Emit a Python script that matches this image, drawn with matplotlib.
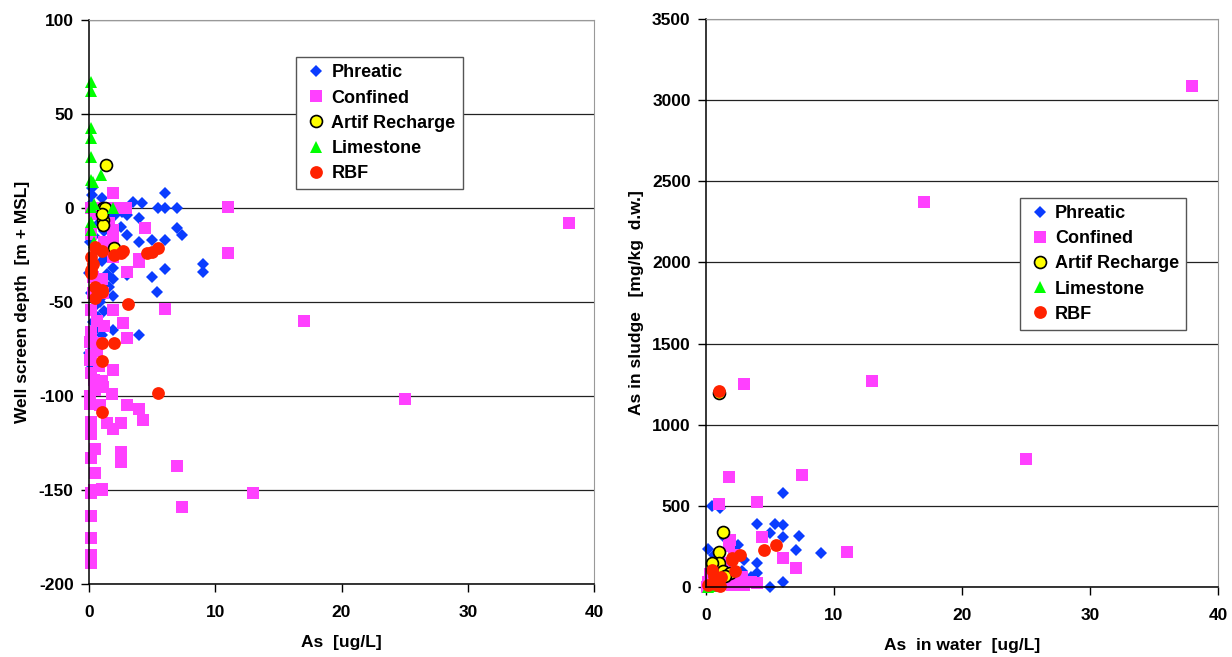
import matplotlib.pyplot as plt

plt.rcParams['font.family'] = ['Liberation Sans', 'DejaVu Sans']
plt.rcParams['font.weight'] = 'bold'
plt.rcParams['axes.unicode_minus'] = False

# ---- left panel: well screen depth vs As ----
phr_x = [0.24, 0.24, 1.0, 6.0, 3.5, 4.2, 5.5, 6.0, 7.0, 2.1, 3.0, 4.0, 7.0, 7.4, 3.0, 4.0, 5.0,
         6.0, 9.0, 9.0, 6.0, 5.0, 1.9, 1.9, 5.4, 1.9, 1.1, 0.0, 0.3, 1.9, 4.0, 1.0, 3.0, 0.0,
         0.2, 0.5, 0.8, 1.2, 0.4, 0.6, 1.0, 0.3, 1.5, 0.8, 0.5, 0.2, 0.7, 0.4, 0.2, 1.2, 2.5,
         2.0, 1.5, 0.1, 2.6, 1.4, 0.9, 1.6, 0.6, 1.3]
phr_y = [10.6, 6.9, 5.3, 8.0, 3.2, 2.7, 0, 0, 0, -3.7, -3.7, -5.3, -10.6, -14.4, -14.4, -18, -17,
         -17, -30, -34, -32.4, -36.7, -32, -38, -44.7, -47, -47, -34.6, -60.6, -65, -67.6, -67.6,
         -35.6, -77, 2, -2, -8, -12, -15, -22, -28, -30, -20, -40, -52, -45, -58, -70, -85, -55,
         -10, -24, -5, -18, -2, -35, -50, -42, -64, -26]

con_x = [1.9, 0.2, 0.8, 1.5, 2.2, 2.9, 11.0, 4.4, 1.9, 1.9, 0.2, 11.0, 4.0, 3.0, 1.9, 0.3, 1.0,
         4.0, 6.0, 0.2, 1.9, 2.7, 3.0, 0.2, 0.1, 1.9, 0.1, 0.8, 0.4, 1.8, 3.0, 4.0, 4.3, 1.4, 2.5,
         1.9, 0.2, 0.2, 0.5, 0.2, 2.5, 2.5, 7.0, 0.5, 1.0, 0.2, 13.0, 7.4, 0.2, 0.2, 0.2, 0.2,
         38.0, 17.0, 25.0, 0.1, 0.1, 0.5, 1.0, 1.1, 0.6, 0.2, 0.9, 1.0, 0.4, 0.3, 0.6, 1.2, 0.8,
         0.2, 1.1, 0.5, 1.2, 1.6]
con_y = [8, 0, 0, 0, 0, 0, 0.5, -10.6, -11.7, -16, -14, -24, -27, -34, -26, -36.7, -38,
         -28.7, -53.7, -54, -54, -61, -69, -66, -71, -86, -81, -84, -91.5, -99, -105, -107, -113,
         -114.5, -114.5, -117.6, -114, -120, -128, -133, -130, -135, -137, -141, -149.5, -151.6,
         -151.6, -159, -164, -175.5, -184.6, -189, -8, -60, -101.6, -100, -104, -97, -92, -95,
         -76, -88, -105, -150, -150, -45, -60, -63, -72, -78, -45, -3, -18, -8]

art_x = [1.35, 1.1, 1.3, 1.1, 1.1, 2.0, 1.0]
art_y = [23, 0, 0, -6.5, -9, -21, -3]

lim_x = [0.2, 0.2, 0.2, 0.2, 0.2, 0.2, 0.95, 0.2, 1.9, 0.2, 0.2, 0.4, 0.3, 0.4]
lim_y = [67, 62, 42.6, 37.2, 27, 15, 17.5, 0.5, 0, -7.4, -11.7, -18, 14, 2]

rbf_x = [0.5, 1.0, 0.2, 2.5, 2.7, 4.6, 5.0, 5.5, 0.2, 0.2, 0.5, 1.0, 0.5, 1.0, 3.1, 1.0, 2.0,
         1.0, 5.5, 1.0, 0.3, 2.0]
rbf_y = [-20.7, -23, -26, -24, -22.8, -24, -23.4, -21.4, -33, -34.6, -42, -43.6, -48, -44.7,
         -51, -71.8, -71.8, -81.4, -98.4, -108.5, -30, -25]

# ---- right panel: As in sludge vs As in water ----
phr2_x = [6.0, 0.5, 1.1, 4.0, 5.4, 6.0, 5.0, 6.0, 7.3, 7.0, 9.0, 0.2, 4.0, 4.0, 5.0, 6.0, 2.5,
          3.0, 2.0, 1.5, 0.8, 0.3, 1.2, 2.2, 3.5, 0.6, 1.0, 2.8]
phr2_y = [580, 499, 486, 388, 388, 382, 332, 308, 314, 228, 209, 234, 148, 86, 0, 31, 259,
          166, 240, 300, 120, 60, 30, 180, 60, 200, 160, 100]

con2_x = [38.0, 17.0, 25.0, 13.0, 3.0, 1.8, 7.5, 4.0, 1.0, 11.0, 4.4, 6.0, 7.0, 4.0, 1.9, 0.2,
          0.5, 1.0, 1.5, 2.0, 2.5, 3.0, 0.8, 1.2, 2.2, 1.8, 0.3, 2.8, 1.5, 0.1, 0.7, 2.0, 3.5]
con2_y = [3090, 2370, 790, 1270, 1250, 677, 690, 523, 511, 216, 308, 179, 117, 25, 290, 30,
          10, 50, 20, 80, 40, 10, 100, 150, 200, 250, 80, 60, 120, 0, 5, 15, 30]

art2_x = [1.0, 1.3, 1.0, 1.0, 0.5, 1.3, 1.9, 1.5]
art2_y = [1193, 339, 216, 148, 148, 99, 86, 70]

lim2_x = [0.2, 0.3, 0.5]
lim2_y = [0, 10, 5]

rbf2_x = [1.0, 5.5, 4.5, 2.7, 2.0, 2.3, 0.5, 1.0, 0.2, 0.9, 1.2, 0.6, 2.0, 1.1]
rbf2_y = [1207, 259, 228, 197, 166, 99, 105, 43, 12, 15, 60, 70, 180, 8]

labels = ['Phreatic', 'Confined', 'Artif Recharge', 'Limestone', 'RBF']
styles = [
    dict(marker='D', ms=6.3, color='#0A3CFF', mec='#0A3CFF', mew=0),
    dict(marker='s', ms=8.7, color='#FF40FF', mec='#FF40FF', mew=0),
    dict(marker='o', ms=8.6, color='#FFFF00', mec='black', mew=1.2),
    dict(marker='^', ms=9.0, color='#00FF00', mec='#00FF00', mew=0),
    dict(marker='o', ms=9.2, color='#FF2200', mec='#FF2200', mew=0),
]


def style_axes(ax, ylim, yticks, xlabel, ylabel):
    ax.set_xlim(0, 40)
    ax.set_ylim(*ylim)
    ax.set_xticks([0, 10, 20, 30, 40])
    ax.set_yticks(yticks)
    ax.yaxis.grid(True, color='#222222', linewidth=0.9)
    ax.set_axisbelow(True)
    for side in ['top', 'right']:
        ax.spines[side].set_color('#999999')
    for side in ['left', 'bottom']:
        ax.spines[side].set_color('black')
        ax.spines[side].set_linewidth(1.1)
    ax.tick_params(direction='out', length=6, width=1, labelsize=12.5, pad=5)
    ax.tick_params(axis='x', pad=9)
    for lab in ax.get_xticklabels() + ax.get_yticklabels():
        lab.set_fontweight('bold')
    ax.set_xlabel(xlabel, fontsize=12.5, fontweight='bold', labelpad=11)
    ax.set_ylabel(ylabel, fontsize=12.5, fontweight='bold', labelpad=6)


fig = plt.figure(figsize=(12.32, 6.57), dpi=100)
ax1 = fig.add_axes([0.0722, 0.1111, 0.41, 0.8584])
ax2 = fig.add_axes([0.573, 0.1065, 0.4156, 0.8645])

left_sets = [(phr_x, phr_y), (con_x, con_y), (art_x, art_y), (lim_x, lim_y), (rbf_x, rbf_y)]
right_sets = [(phr2_x, phr2_y), (con2_x, con2_y), (art2_x, art2_y), (lim2_x, lim2_y),
              (rbf2_x, rbf2_y)]

for (x, y), lab, st in zip(left_sets, labels, styles):
    ax1.plot(x, y, linestyle='none', label=lab, clip_on=False, **st)
for (x, y), lab, st in zip(right_sets, labels, styles):
    ax2.plot(x, y, linestyle='none', label=lab, clip_on=False, **st)

style_axes(ax1, (-200, 100), range(-200, 101, 50), 'As  [ug/L]', 'Well screen depth  [m + MSL]')
style_axes(ax2, (0, 3500), range(0, 3501, 500), 'As  in water  [ug/L]',
           'As in sludge   [mg/kg  d.w.]')

leg_kw = dict(fancybox=False, framealpha=1, edgecolor='#555555', handlelength=1.4,
              handletextpad=0.15, borderpad=0.4, labelspacing=0.45, borderaxespad=0,
              prop={'weight': 'bold', 'size': 13})
l1 = ax1.legend(loc='upper left', bbox_to_anchor=(0.41, 0.934), **leg_kw)
l2 = ax2.legend(loc='upper left', bbox_to_anchor=(0.613, 0.685), **leg_kw)
for l in (l1, l2):
    l.get_frame().set_linewidth(1.0)

fig.savefig('out.png', dpi=100)
